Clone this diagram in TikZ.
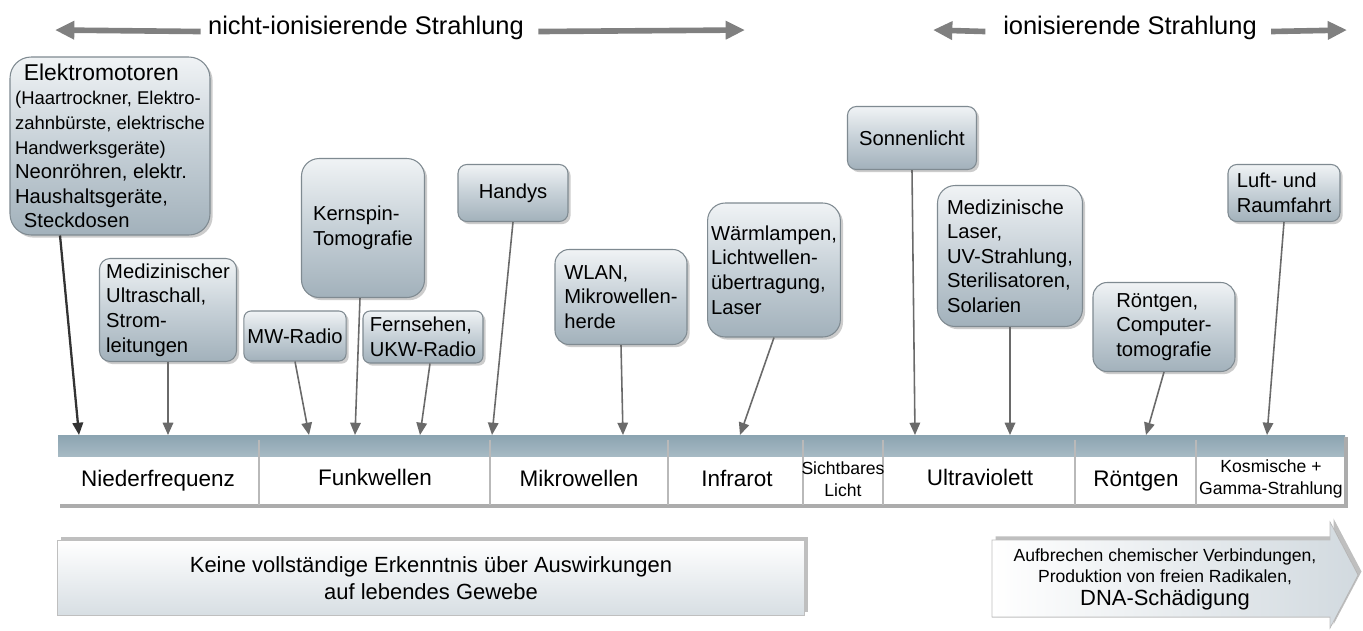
\documentclass[tikz,border=0pt]{standalone}
\usepackage{fontspec}
\setmainfont{Liberation Sans}
\usetikzlibrary{arrows.meta, shadows}

\definecolor{boxtop}{HTML}{F0F3F5}
\definecolor{boxmid}{HTML}{C6D0D7}
\definecolor{boxbot}{HTML}{A2B1BB}
\definecolor{boxline}{HTML}{7F8A91}
\definecolor{barblue}{HTML}{8BA4B1}
\definecolor{pfeilgrau}{HTML}{6A6A6A}

\newcommand{\klein}{\fontsize{10.5}{12}\selectfont}
\newcommand{\mittel}{\fontsize{11.5}{13.3}\selectfont}

\tikzset{
  anwendung/.style={draw=boxline, line width=0.6pt, rounded corners=6pt,
    top color=boxtop, bottom color=boxbot, middle color=boxmid,
    align=left, inner xsep=2pt, inner ysep=1pt,
    font=\fontsize{11.5}{14}\selectfont,
    drop shadow={shadow xshift=1.5pt, shadow yshift=-1.5pt, opacity=0.4}},
  zeiger/.style={draw=pfeilgrau, line width=0.9pt, -{Triangle[length=7pt,width=6pt]}},
  strahl/.style={draw=pfeilgrau!85, line width=3.2pt, -{Triangle[length=11pt,width=10pt]}},
  titel/.style={font=\fontsize{14.5}{17}\selectfont, inner sep=2pt},
  band/.style={font=\fontsize{12.8}{15}\selectfont, align=center, text height=9.5pt, text depth=3pt},
  bandklein/.style={font=\fontsize{10}{12.3}\selectfont, align=center, inner sep=1pt}
}

\begin{document}
\begin{tikzpicture}[x=0.02cm, y=-0.02cm]
  \useasboundingbox[fill=white] (0,0) rectangle (1363,630);

  % Ueberschriften
  \node[titel] (nion) at (366,28) {nicht-ionisierende Strahlung};
  \node[titel] (ion) at (1130,28) {ionisierende Strahlung};
  \coordinate (nionL) at (55,30);
  \coordinate (nionR) at (745,30);
  \coordinate (ionL) at (933,30);
  \coordinate (ionR) at (1347,30);
  \draw[strahl] ([xshift=-2pt,yshift=-2pt]nion.west) -- (nionL);
  \draw[strahl] ([xshift=6pt,yshift=-2pt]nion.east) -- (nionR);
  \draw[strahl] ([xshift=-8pt,yshift=-2pt]ion.west) -- (ionL);
  \draw[strahl] ([xshift=6pt,yshift=-2pt]ion.east) -- (ionR);

  % Band
  \fill[top color=barblue, bottom color=barblue!75!white] (58,435) rectangle (1345,457);
  \fill[white] (58,457) rectangle (1345,505);
  \draw[gray!65, line width=2.2pt] (60,506) -- (1346,506) -- (1346,437);
  \foreach \x in {259,490,668,803,883,1075,1196}
    \draw[gray!55, line width=0.6pt] (\x,440) -- (\x,505);

  \node[band] (nf) at (158,481) {Niederfrequenz};
  \node[band] (funk) at (375,480) {Funkwellen};
  \node[band] (mikro) at (579,481) {Mikrowellen};
  \node[band] (ir) at (737,481) {Infrarot};
  \node[bandklein] (licht) at (843,479) {Sichtbares\\Licht};
  \node[band] (uv) at (980,480) {Ultraviolett};
  \node[band] (xray) at (1136,481) {Röntgen};
  \node[bandklein] (gamma) at (1271,479) {Kosmische +\\Gamma-Strahlung};

  % Anwendungen
  \node[anwendung, rounded corners=12pt, minimum width=4cm, minimum height=3.56cm] (emot) at (110,146)
    {\fontsize{13}{14}\selectfont\hspace*{5pt}Elektromotoren\\
     \klein (Haartrockner, Elektro-\\
     \klein zahnbürste, elektrische\\
     \klein Handwerksgeräte)\\
     \mittel Neonröhren, elektr.\\
     \mittel Haushaltsgeräte,\\
     \mittel\hspace*{5pt}Steckdosen};
  \node[anwendung, minimum width=2.74cm, minimum height=2.06cm] (ultra) at (168,310) {Medizinischer\\Ultraschall,\\Strom-\\leitungen};
  \node[anwendung, rounded corners=4pt, minimum width=2cm, minimum height=1cm] (mw) at (295,336) {MW-Radio};
  \node[anwendung, rounded corners=10pt, minimum width=2.46cm, minimum height=2.78cm] (kern) at (363,228) {Kernspin-\\Tomografie};
  \node[anwendung, rounded corners=4pt, minimum width=2.4cm, minimum height=1.04cm] (tv) at (423,337) {Fernsehen,\\UKW-Radio};
  \node[anwendung, rounded corners=5pt, minimum width=2.2cm, minimum height=1.14cm] (handy) at (513,193) {Handys};
  \node[anwendung, rounded corners=8pt, minimum width=2.64cm, minimum height=1.9cm] (wlan) at (621,297) {WLAN,\\Mikrowellen-\\herde};
  \node[anwendung, rounded corners=10pt, minimum width=2.64cm, minimum height=2.68cm] (warm) at (774,270) {Wärmlampen,\\Lichtwellen-\\übertragung,\\Laser};
  \node[anwendung, rounded corners=5pt, minimum width=2.58cm, minimum height=1.26cm] (sonne) at (912,138) {Sonnenlicht};
  \node[anwendung, rounded corners=10pt, minimum width=2.9cm, minimum height=2.82cm] (medlaser) at (1010,256) {Medizinische\\Laser,\\UV-Strahlung,\\Sterilisatoren,\\Solarien};
  \node[anwendung, rounded corners=8pt, minimum width=2.84cm, minimum height=1.78cm] (roent) at (1164,327) {Röntgen,\\Computer-\\tomografie};
  \node[anwendung, rounded corners=5pt, minimum width=2.24cm, minimum height=1.14cm] (luft) at (1284,193) {Luft- und\\Raumfahrt};

  % Ziele auf dem Band
  \coordinate (b1) at (79,435);
  \coordinate (b2) at (168,435);
  \coordinate (b3) at (309,435);
  \coordinate (b4) at (355,435);
  \coordinate (b5) at (420,435);
  \coordinate (b6) at (492,435);
  \coordinate (b7) at (623,435);
  \coordinate (b8) at (740,435);
  \coordinate (b9) at (915,435);
  \coordinate (b10) at (1010,435);
  \coordinate (b11) at (1146,435);
  \coordinate (b12) at (1267,435);

  % Pfeile
  \draw[zeiger, draw=black!80, line width=1.3pt] ([xshift=-1cm]emot.south) -- (b1);
  \draw[zeiger] (ultra.south) -- (b2);
  \draw[zeiger] (mw.south) -- (b3);
  \draw[zeiger] ([xshift=-0.06cm]kern.south) -- (b4);
  \draw[zeiger] ([xshift=0.14cm]tv.south) -- (b5);
  \draw[zeiger] (handy.south) -- (b6);
  \draw[zeiger] (wlan.south) -- (b7);
  \draw[zeiger] (warm.south) -- (b8);
  \draw[zeiger] (sonne.south) -- (b9);
  \draw[zeiger] (medlaser.south) -- (b10);
  \draw[zeiger] (roent.south) -- (b11);
  \draw[zeiger] (luft.south) -- (b12);

  % Wirkungen
  \node[draw=gray!50, minimum width=14.94cm, minimum height=1.5cm,
        top color=white, bottom color=boxmid!70!white, align=center,
        font=\fontsize{12.5}{15}\selectfont,
        drop shadow={shadow xshift=2pt, shadow yshift=2pt, opacity=0.5}] (unklar) at (431,578)
    {Keine vollständige Erkenntnis über Auswirkungen\\auf lebendes Gewebe};
  \filldraw[draw=gray!50, left color=white, right color=boxmid!80!white,
        drop shadow={shadow xshift=2pt, shadow yshift=2pt, opacity=0.5}]
    (992,540) -- (1330,540) -- (1330,522) -- (1358,575) -- (1330,628) -- (1330,617) -- (992,617) -- cycle;
  \node[align=center, font=\fontsize{10}{12}\selectfont] (schaden) at (1165,579)
    {Aufbrechen chemischer Verbindungen,\\
     Produktion von freien Radikalen,\\[1pt]
     \fontsize{12.5}{14}\selectfont DNA-Schädigung};
\end{tikzpicture}
\end{document}
